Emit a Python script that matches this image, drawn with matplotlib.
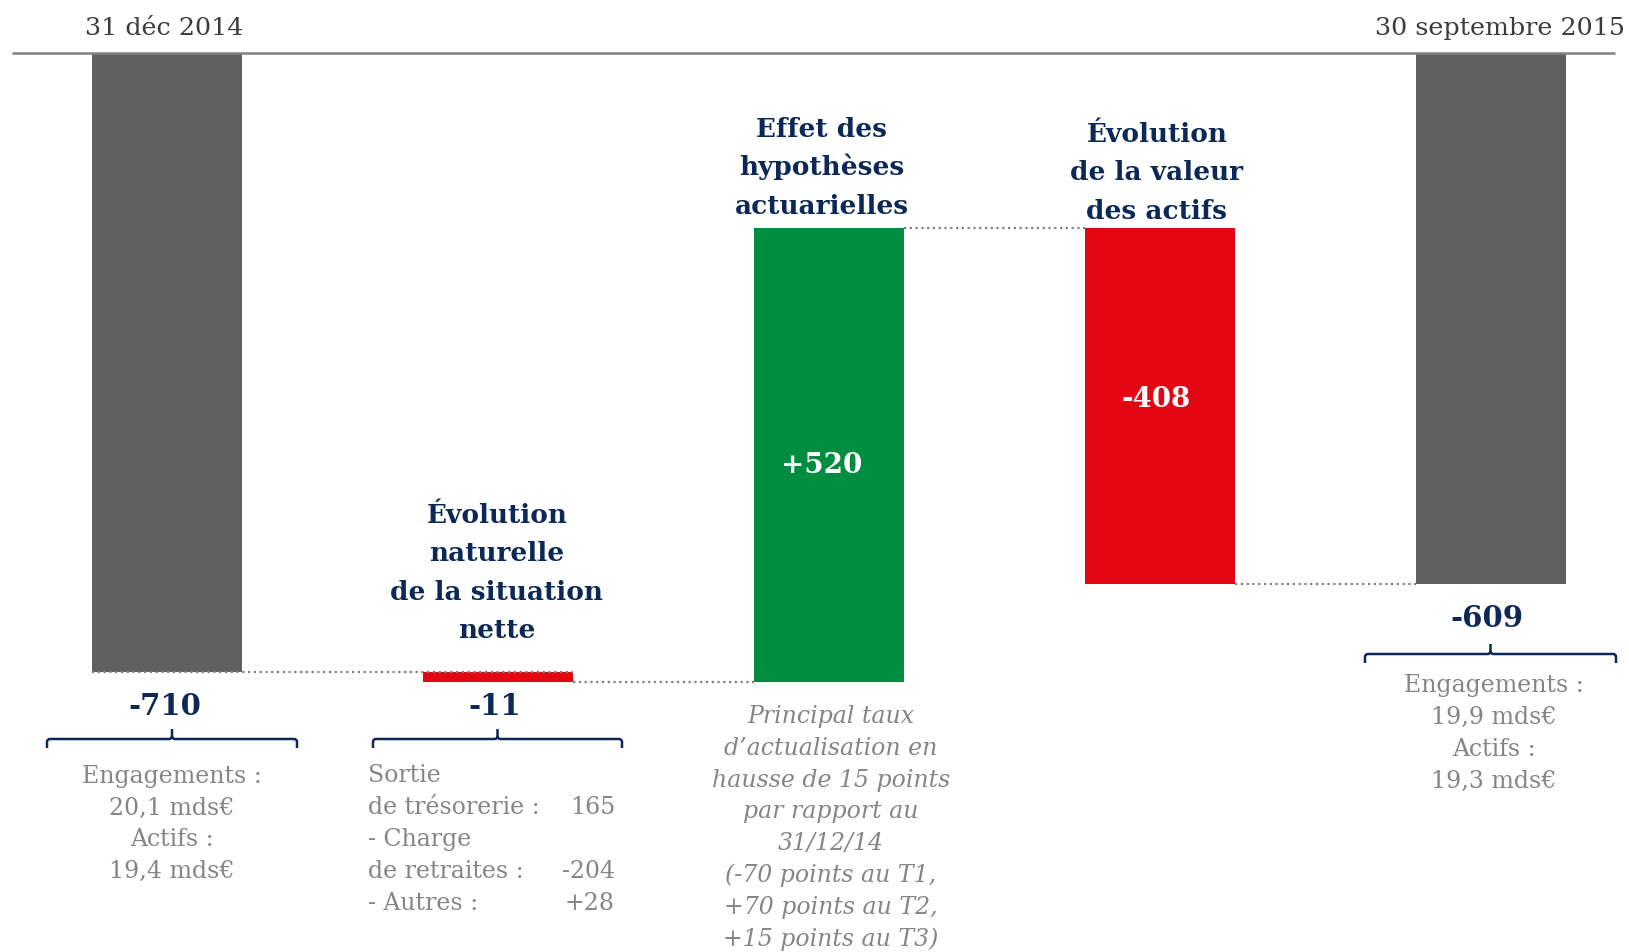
import matplotlib
matplotlib.use("Agg")
import matplotlib.pyplot as plt
import matplotlib.transforms as mtransforms
from matplotlib.path import Path
from matplotlib.patches import PathPatch

# ---- data -------------------------------------------------------------
start_label = "31 déc 2014"
end_label = "30 septembre 2015"
opening_value = -710
change_titles = [
    "Évolution\nnaturelle\nde la situation\nnette",
    "Effet des\nhypothèses\nactuarielles",
    "Évolution\nde la valeur\ndes actifs",
]
change_values = [-11, 520, -408]
closing_value = -609

opening_note = ["Engagements :", "20,1 mds€", "Actifs :", "19,4 mds€"]
closing_note = ["Engagements :", "19,9 mds€", "Actifs :", "19,3 mds€"]
natural_note_labels = ["Sortie", "de trésorerie :", "- Charge", "de retraites :", "- Autres :"]
natural_note_values = ["", "165", "", "-204", "+28"]
actuarial_note = [
    "Principal taux",
    "d\u2019actualisation en",
    "hausse de 15 points",
    "par rapport au",
    "31/12/14",
    "(-70 points au T1,",
    "+70 points au T2,",
    "+15 points au T3)",
]

# ---- styling ----------------------------------------------------------
GREY_BAR = "#606060"
GREEN = "#008d3f"
RED = "#e30613"
NAVY = "#0b2856"
NOTE_GREY = "#858585"
DATE_GREY = "#3c3c3c"
LINE_GREY = "#808080"
FONT = "DejaVu Serif"

W, H = 1629, 952
fig = plt.figure(figsize=(W / 100, H / 100), dpi=100)
ax = fig.add_axes([0, 0, 1, 1])
ax.axis("off")

# layout of the value axis and the category slots (in pixels)
first_px, step_px = 167.0, 331.0
top_px, unit_px = 52.5, 0.8725
bar_w = 150.0 / step_px
ax.set_xlim(-first_px / step_px, (W - first_px) / step_px)
ax.set_ylim(-(H - top_px) / unit_px, top_px / unit_px)

# transform with pixel coordinates measured from the top-left corner
pix = mtransforms.Affine2D().scale(1 / W, -1 / H).translate(0, 1) + fig.transFigure


def put(x, y, s, **kw):
    kw.setdefault("family", FONT)
    ax.text(x, y, s, transform=pix, **kw)


def xpix(i):
    return first_px + i * step_px


# ---- waterfall bars ---------------------------------------------------
segments = [(0, 0, opening_value, GREY_BAR)]
running = opening_value
for k, c in enumerate(change_values):
    segments.append((k + 1, running, running + c, GREEN if c > 0 else RED))
    running += c
segments.append((len(change_values) + 1, 0, closing_value, GREY_BAR))

for x, a, b, col in segments:
    ax.bar(x, b - a, bottom=a, width=bar_w, color=col, linewidth=0, zorder=2)

# dotted connectors between consecutive levels
for k in range(len(segments) - 1):
    x0, a0, b0, _ = segments[k]
    x1 = segments[k + 1][0]
    if k == 0:
        xs, xe = x0 - bar_w / 2, x1 + bar_w / 2
    else:
        xs, xe = x0 + bar_w / 2, x1 - bar_w / 2
    ax.plot([xs, xe], [b0, b0], color=LINE_GREY, lw=1.6,
            linestyle=(0, (1, 1.6)), zorder=3)

# baseline at zero
ax.plot([(12 - first_px) / step_px, (1615 - first_px) / step_px], [0, 0],
        color=LINE_GREY, lw=1.8, zorder=4, solid_capstyle="butt")

# ---- dates --------------------------------------------------------------
put(164, 35, start_label, ha="center", va="baseline", fontsize=18.3, color=DATE_GREY)
put(1500, 35, end_label, ha="center", va="baseline", fontsize=18.3, color=DATE_GREY)

# ---- titles of the changes -----------------------------------------------
title_pos = [(497, 523), (822, 137), (1157, 142)]
for (tx, ty), title in zip(title_pos, change_titles):
    for j, line in enumerate(title.split("\n")):
        put(tx, ty + j * 38.3, line, ha="center", va="baseline",
            fontsize=19, fontweight="bold", color=NAVY)

# ---- value labels -------------------------------------------------------
put(165, 715, f"{opening_value:d}", ha="center", va="baseline",
    fontsize=21, fontweight="bold", color=NAVY)
put(495, 715, f"{change_values[0]:d}", ha="center", va="baseline",
    fontsize=21, fontweight="bold", color=NAVY)
put(1487, 627, f"{closing_value:d}", ha="center", va="baseline",
    fontsize=21, fontweight="bold", color=NAVY)
put(xpix(2) - 7, 473, f"{change_values[1]:+d}", ha="center", va="baseline",
    fontsize=20, fontweight="bold", color="white")
put(xpix(3) - 4, 407, f"{change_values[2]:+d}", ha="center", va="baseline",
    fontsize=20, fontweight="bold", color="white")


# ---- brackets -----------------------------------------------------------
def bracket(xl, xr, y, drop=9, rise=10, r=3):
    xc = (xl + xr) / 2
    verts = [
        (xl, y + drop), (xl, y + r), (xl, y), (xl + r, y),
        (xc - r, y), (xc, y), (xc, y - r), (xc, y - rise),
        (xc, y - r), (xc, y), (xc + r, y),
        (xr - r, y), (xr, y), (xr, y + r), (xr, y + drop),
    ]
    codes = [
        Path.MOVETO, Path.LINETO, Path.CURVE3, Path.CURVE3,
        Path.LINETO, Path.CURVE3, Path.CURVE3, Path.LINETO,
        Path.MOVETO, Path.CURVE3, Path.CURVE3,
        Path.LINETO, Path.CURVE3, Path.CURVE3, Path.LINETO,
    ]
    ax.add_patch(PathPatch(Path(verts, codes), transform=pix, fill=False,
                           edgecolor=NAVY, lw=1.8, capstyle="butt"))


bracket(47, 297, 739)
bracket(373, 622, 739)
bracket(1365, 1616, 654)

# ---- notes ----------------------------------------------------------------
for j, line in enumerate(opening_note):
    put(172, 783 + j * 31.7, line, ha="center", va="baseline",
        fontsize=17, color=NOTE_GREY)

for j, line in enumerate(closing_note):
    put(1494, 692 + j * 32, line, ha="center", va="baseline",
        fontsize=17, color=NOTE_GREY)

for j, (lab, val) in enumerate(zip(natural_note_labels, natural_note_values)):
    y = 782 + j * 32
    put(368, y, lab, ha="left", va="baseline", fontsize=17, color=NOTE_GREY)
    if val:
        put(615, y, val, ha="right", va="baseline", fontsize=17, color=NOTE_GREY)

for j, line in enumerate(actuarial_note):
    put(831, 723 + j * 31.8, line, ha="center", va="baseline",
        fontsize=17, style="italic", color=NOTE_GREY)

fig.savefig("out.png", dpi=100)
